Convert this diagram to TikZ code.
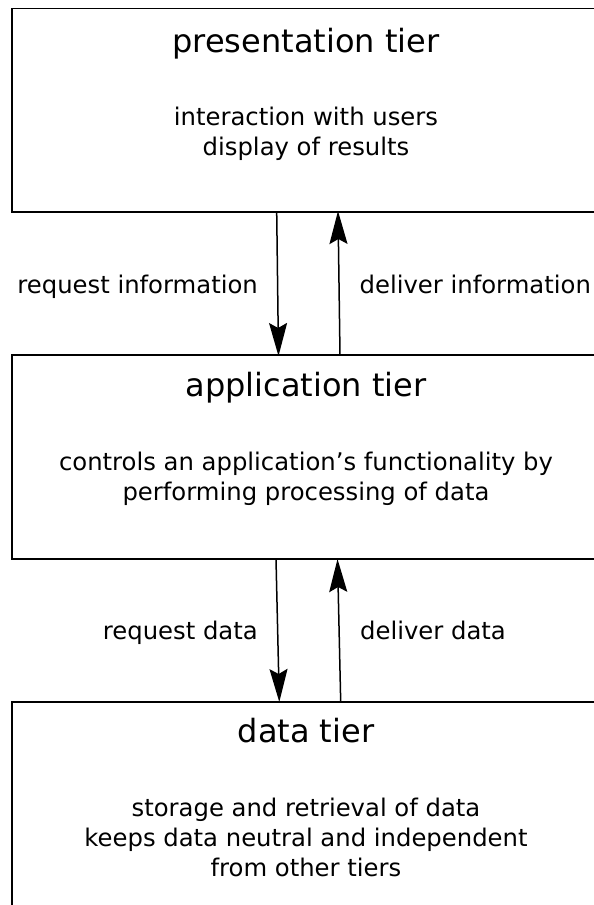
\documentclass[tikz,border=0pt]{standalone}
\usepackage{fontspec}
\setmainfont{DejaVu Sans}
\usetikzlibrary{arrows.meta}
% centred lines whose baseline is that of the first line
\newcommand{\tierlines}[1]{\begin{tabular}[t]{@{}c@{}}#1\end{tabular}}
\begin{document}
\begin{tikzpicture}[x=1pt,y=-1pt,
  tier/.style={draw,line width=1.8pt,rectangle,inner sep=0pt,outer sep=0pt,
    anchor=north west,minimum width=592pt},
  tiertitle/.style={font=\fontsize{32}{38}\selectfont,inner sep=0pt,anchor=base},
  tierbody/.style={font=\fontsize{24.3}{30}\selectfont,inner sep=0pt,anchor=base},
  flowlabel/.style={font=\fontsize{24.3}{30}\selectfont,inner sep=0pt},
  flow/.style={line width=1.5pt,-{Stealth[length=33pt,width=18pt,inset=5pt]}}]

\useasboundingbox (0,0) rectangle (594,905);
\clip (0,0) rectangle (594,905);

% the three tiers (they run past the right and lower edges)
\node[tier,minimum height=203.5pt] (pres) at (12,8.5) {};
\node[tier,minimum height=204pt] (app) at (12,355) {};
\node[tier,minimum height=240pt] (data) at (12,702.3) {};

% tier texts
\node[tiertitle] (prestitle) at (306,52.7) {presentation tier};
\node[tierbody] (presbody) at (306,125) {\tierlines{interaction with users\\display of results}};
\node[tiertitle] (apptitle) at (306,396.7) {application tier};
\node[tierbody] (appbody) at (306,470) {\tierlines{controls an application’s functionality by\\performing processing of data}};
\node[tiertitle] (datatitle) at (306,742.7) {data tier};
\node[tierbody] (databody) at (306,816.7) {\tierlines{storage and retrieval of data\\keeps data neutral and independent\\from other tiers}};

% ends of the requests and replies on the tier borders
\coordinate (reqinfo-from) at (276.7,212);
\coordinate (reqinfo-to) at (278.5,356);
\coordinate (delinfo-from) at (340,355);
\coordinate (delinfo-to) at (338,211);
\coordinate (reqdata-from) at (276,559);
\coordinate (reqdata-to) at (279.3,702);
\coordinate (deldata-from) at (340.7,702);
\coordinate (deldata-to) at (337.5,559);

\draw[flow] (reqinfo-from) -- (reqinfo-to);
\draw[flow] (delinfo-from) -- (delinfo-to);
\draw[flow] (reqdata-from) -- (reqdata-to);
\draw[flow] (deldata-from) -- (deldata-to);

% labels beside the arrows
\node[flowlabel,anchor=base east] (reqinfo) at (258,293.3) {request information};
\node[flowlabel,anchor=base west] (delinfo) at (359.5,293.3) {deliver information};
\node[flowlabel,anchor=base east] (reqdata) at (258,639.3) {request data};
\node[flowlabel,anchor=base west] (deldata) at (360,639.3) {deliver data};
\end{tikzpicture}
\end{document}
